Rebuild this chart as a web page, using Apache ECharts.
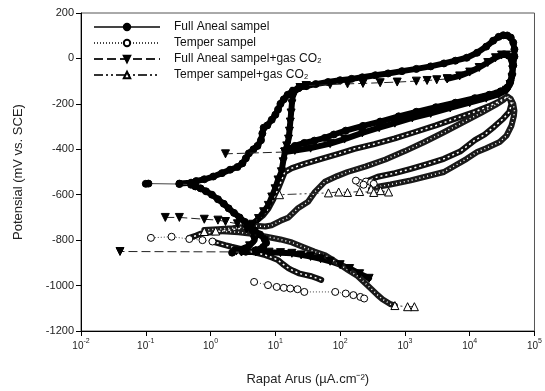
<!DOCTYPE html>
<html><head><meta charset="utf-8">
<script src="https://cdn.jsdelivr.net/npm/echarts@6/dist/echarts.min.js"></script>
<style>html,body{margin:0;padding:0;background:#fff}#c{width:545px;height:391px}</style>
</head><body><div id="c"></div>
<script>
// ---------- data: [current µA/cm², potential mV] ----------
const xTicks = [0.01,0.1,1,10,100,1000,10000,100000];
const yTicks = [-1200,-1000,-800,-600,-400,-200,0,200];
const names = ['Full Aneal sampel','Temper sampel','Full Aneal sampel+gas CO\u2082','Temper sampel+gas CO\u2082'];

// Full Aneal
const faStart = [[2.15,-855],[3.5,-851],[5,-845]];
const faCathodic = [[5,-845],[6.5,-830],[7.2,-812],[6.8,-795],[5.8,-775],[4.8,-758],[4,-740],[3.4,-720],[2.8,-700],[2.3,-680],[1.9,-660],[1.6,-640],[1.3,-620],[1.05,-600],[0.85,-585],[0.7,-572],[0.58,-563]];
const faEcorr = [[0.58,-563],[0.5,-556],[0.33,-553],[0.11,-551],[0.1,-552]];
const faAnodic = [[0.33,-551],[0.5,-547],[0.6,-540],[0.8,-532],[1.1,-520],[1.5,-505],[2,-490],[2.6,-478],[3.1,-462],[3.5,-440],[3.9,-418],[4.6,-400],[5.3,-385],[6,-360],[6.3,-330],[6.6,-305],[7.5,-295],[8.8,-270],[10,-248],[11,-225],[12,-200],[13.5,-180],[15.5,-160],[18.5,-143],[23,-130],[30,-122],[42,-113],[65,-104],[100,-96],[150,-90],[220,-83],[350,-74],[550,-66],[900,-56],[1500,-46],[2500,-35],[4000,-22],[6000,-10],[9000,3],[13000,25],[18000,52],[23000,78],[28000,95],[33000,102],[38000,101],[43000,92],[47000,70],[49000,40],[49000,8],[47000,-30],[45000,-70],[42000,-105],[38000,-128],[30000,-145],[20000,-160],[12000,-175],[6000,-195],[3000,-215],[1500,-235],[800,-255],[415,-278],[225,-297],[122,-318],[80,-335],[58,-350],[40,-362],[28,-372],[20,-385],[16,-400]];

// Temper
const tBottom = [[4.7,-984],[7.7,-998],[10.5,-1006],[13.5,-1010],[17,-1013],[22,-1016],[28,-1028],[84,-1028],[122,-1035],[160,-1042],[205,-1050],[235,-1057]];
const tCathodic = [[51,-975],[44,-968],[36,-959],[29,-953],[23,-946],[19,-935],[16,-924],[13,-905],[11,-888],[9,-877],[7,-866],[5.5,-858],[4.3,-851],[3.4,-843],[2.7,-836],[2.1,-829],[1.68,-822],[1.3,-813],[1.07,-806]];
const tLeft = [[1.07,-806],[0.75,-800],[0.47,-795],[0.25,-785],[0.12,-790]];
const tAnodic = [[0.47,-790],[0.6,-780],[0.7,-772],[0.85,-768],[1.1,-765],[1.5,-760],[2,-755],[2.6,-750],[3.4,-745],[4.9,-719],[6.5,-690],[7.8,-661],[9.3,-620],[11,-574],[12.5,-535],[14,-500],[18,-483],[28,-464],[51,-442],[94,-420],[167,-398],[337,-377],[700,-352],[1400,-325],[3000,-295],[6000,-265],[12000,-235],[20000,-210],[28000,-190],[34000,-177],[38000,-168],[42000,-180],[44000,-200],[41000,-235],[33000,-265],[24000,-300],[17000,-335],[12000,-360],[7100,-410],[4000,-442],[2200,-465],[1230,-486],[700,-505],[380,-521],[300,-533],[250,-542]];
const tEnd = [[250,-542],[200,-548],[175,-538],[230,-556],[300,-545],[330,-552]];

// Full Aneal + CO2
const fcCathodic = [[280,-968],[200,-948],[140,-925],[100,-908],[70,-893],[50,-882],[35,-872],[25,-865],[18,-858],[12,-855],[8,-853],[5,-852],[3,-852]];
const fcSpike = [[3,-852],[0.04,-850]];
const fcAnodic = [[2.5,-848],[4,-825],[4.8,-800],[4.5,-775],[3.6,-752],[4.5,-730],[5.5,-705],[6.6,-675],[7.8,-647],[8.8,-610],[9.9,-574],[11,-535],[12.4,-499],[13.2,-455],[14,-412],[15,-385],[16,-355],[16.5,-320],[17,-280],[17.5,-240],[18,-200],[18.5,-170],[20,-145],[24,-128],[30,-120]];
const fcPassive = [[30,-120],[70,-115],[130,-112],[225,-110],[415,-107],[760,-104],[1500,-100],[2200,-97],[3100,-94],[4500,-90]];
const fcLoop = [[4500,-90],[7000,-77],[10000,-60],[14000,-40],[19000,-18],[25000,3],[31000,15],[37000,15],[42000,5],[45000,-20],[46000,-50],[45000,-85],[42000,-115],[37000,-140],[28000,-158],[18000,-175],[10000,-195],[5000,-218],[2500,-242],[1300,-262],[700,-285],[400,-305],[220,-328],[117,-355],[70,-375],[35,-395],[20,-405],[14,-412]];
const fcReturn = [[14,-412],[1.7,-420]];
const fcRow = [[0.2,-700],[0.33,-700],[0.8,-708],[1.3,-712],[1.7,-718],[2.6,-728],[3.6,-735]];

// Temper + CO2
const tcTail = [[1400,-1093],[1100,-1093],[700,-1088]];
const tcCathodic = [[700,-1088],[600,-1082],[450,-1060],[380,-1042],[267,-1000],[186,-958],[130,-930],[103,-911],[75,-885],[59,-867],[40,-850],[28,-832],[18,-810],[12,-797],[8,-787],[5.5,-778],[4,-771],[2.7,-765],[1.8,-762],[1.2,-760]];
const tcSpike = [[1.2,-760],[0.8,-762]];
const tcAnodic = [[0.8,-755],[1.3,-752],[2.2,-748],[3.2,-742],[4.3,-736],[5.5,-738],[7,-740],[8.7,-735],[12,-715],[16,-700],[22,-661],[32,-631],[41,-587],[58,-543],[90,-518],[130,-500],[250,-475],[500,-445],[1000,-408],[2000,-368],[4000,-325],[8000,-280],[15000,-240],[25000,-205],[33000,-183],[38000,-168],[43000,-178],[47000,-200],[49000,-230],[48000,-255],[44000,-297],[37000,-340],[29000,-368],[18000,-395],[13000,-412],[9000,-442],[4000,-500],[1230,-537],[600,-555],[380,-565],[300,-575]];
const tcEnd = [[300,-575],[420,-582],[560,-588],[330,-590],[200,-586],[130,-590],[95,-588],[66,-592],[11.6,-600]];

// ---------- styles ----------
const S = [
  {symbol:'circle', size:7, rotate:0, fill:'#000', dash:'solid', line:'#444', band:'#000', inner:null, denseMarks:true},
  {symbol:'circle', size:7, rotate:0, fill:'#fff', dash:[1,2], line:'#444', band:'#111', inner:[2,3], denseMarks:false},
  {symbol:'triangle', size:8, rotate:180, fill:'#000', dash:[9,4], line:'#222', band:'#000', inner:null, denseMarks:true},
  {symbol:'triangle', size:8, rotate:0, fill:'#fff', dash:[9,3,2,3,2,3], line:'#333', band:'#1a1a1a', inner:[1,3], denseMarks:false}
];
const series = [];
function sparse(i, data, legendName) {
  const s = S[i];
  series.push({type:'line', name: legendName || (names[i] + ' ·' + series.length), data,
    symbol:s.symbol, symbolSize:s.size, symbolRotate:s.rotate, showSymbol:true,
    itemStyle:{color:s.fill, borderColor:'#000', borderWidth:1},
    lineStyle:{color:s.line, width:1, type:s.dash}, z:4, silent:true, animation:false});
}
function dense(i, data) {
  const s = S[i];
  series.push({type:'line', name:names[i]+' band'+series.length, data, symbol:'none',
    lineStyle:{color:s.band, width:6, cap:'round', join:'round'}, z:2, silent:true, animation:false});
  if (s.inner) series.push({type:'line', name:names[i]+' inner'+series.length, data, symbol:'none',
    lineStyle:{color:'#fff', width:1.5, type:s.inner, join:'round'}, z:3, silent:true, animation:false});
  if (s.denseMarks) series.push({type:'line', name:names[i]+' marks'+series.length, data,
    symbol:s.symbol, symbolSize:s.size, symbolRotate:s.rotate, showSymbol:true,
    itemStyle:{color:s.fill, borderColor:'#000', borderWidth:1},
    lineStyle:{width:0, opacity:0}, z:3, silent:true, animation:false});
}
sparse(0, faEcorr, names[0]);
sparse(1, tLeft, names[1]);
sparse(2, fcSpike, names[2]);
sparse(3, tcTail, names[3]);
sparse(0, faStart);
dense(0, faCathodic); dense(0, faAnodic);
sparse(1, tBottom); dense(1, tCathodic); dense(1, tAnodic); sparse(1, tEnd);
dense(2, fcCathodic); dense(2, fcAnodic); sparse(2, fcPassive); dense(2, fcLoop); sparse(2, fcReturn); sparse(2, fcRow);
dense(3, tcCathodic); sparse(3, tcSpike); dense(3, tcAnodic); sparse(3, tcEnd);

const FONT = 'Liberation Sans, Arial, sans-serif';
const chart = echarts.init(document.getElementById('c'), null, {renderer:'canvas'});
chart.setOption({
  animation:false,
  backgroundColor:'#fff',
  grid:{left:81, right:7, top:13, bottom:58, show:true, borderColor:'#555', borderWidth:1, backgroundColor:'transparent'},
  legend:{
    data: names.map(n => ({name:n})),
    orient:'vertical', left:88, top:15, itemWidth:66, itemHeight:8, itemGap:2,
    textStyle:{fontFamily:FONT, fontSize:12, color:'#111', padding:[0,0,0,9], lineHeight:14},
    selectedMode:false
  },
  xAxis:{
    type:'log', logBase:10, min:xTicks[0], max:xTicks[xTicks.length-1], splitNumber:7,
    name:'Rapat Arus (\u00b5A.cm\u207b\u00b2)', nameLocation:'middle', nameGap:42,
    nameTextStyle:{fontFamily:FONT, fontSize:13, color:'#222'},
    axisLine:{onZero:false, lineStyle:{color:'#000', width:1}},
    axisTick:{show:true, length:5, lineStyle:{color:'#000'}},
    splitLine:{show:false}, minorTick:{show:false},
    axisLabel:{margin:7, color:'#222', fontFamily:FONT,
      formatter: v => { const e = Math.round(Math.log10(v)); return '{b|10}{e|' + e + '}'; },
      rich:{b:{fontSize:10, lineHeight:13, verticalAlign:'bottom'}, e:{fontSize:7, lineHeight:13, verticalAlign:'top'}}}
  },
  yAxis:{
    type:'value', min:yTicks[0], max:yTicks[yTicks.length-1], interval:200,
    name:'Potensial (mV vs. SCE)', nameLocation:'middle', nameGap:56, nameRotate:90,
    nameTextStyle:{fontFamily:FONT, fontSize:13, color:'#222'},
    axisLine:{show:true, onZero:false, lineStyle:{color:'#000', width:1}},
    axisTick:{show:true, length:5, lineStyle:{color:'#000'}},
    splitLine:{show:false},
    axisLabel:{margin:7, fontSize:11, color:'#222', fontFamily:FONT, formatter: v => String(v)}
  },
  series
});
</script></body></html>
